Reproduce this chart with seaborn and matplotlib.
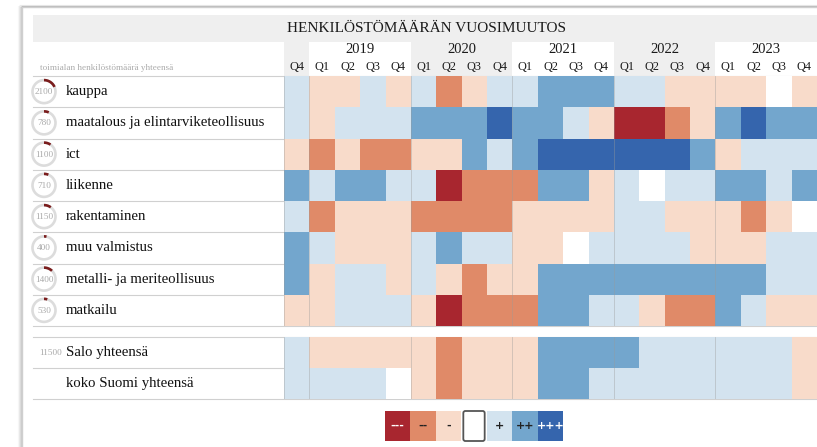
import numpy as np
import pandas as pd
import seaborn as sns
import matplotlib
matplotlib.use("Agg")
import matplotlib.pyplot as plt
from matplotlib.colors import ListedColormap
from matplotlib.patches import Rectangle, Circle, FancyBboxPatch

# ---------------- data ----------------
years = ["2019", "2020", "2021", "2022", "2023"]
quarters = ["Q4"] + ["Q1", "Q2", "Q3", "Q4"] * 5
industries = ["kauppa", "maatalous ja elintarviketeollisuus", "ict", "liikenne",
              "rakentaminen", "muu valmistus", "metalli- ja meriteollisuus", "matkailu"]
staff = [2100, 780, 1100, 710, 1150, 400, 1400, 530]
total_staff = 11500
totals_labels = ["Salo yhteensä", "koko Suomi yhteensä"]

kauppa       = [1, -1, -1, 1, -1, 1, -2, -1, 1, 1, 2, 2, 2, 1, 1, -1, -1, -1, -1, 0, -1]
maatalous    = [1, -1, 1, 1, 1, 2, 2, 2, 3, 2, 2, 1, -1, -3, -3, -2, -1, 2, 3, 2, 2]
ict          = [-1, -2, -1, -2, -2, -1, -1, 2, 1, 2, 3, 3, 3, 3, 3, 3, 2, -1, 1, 1, 1]
liikenne     = [2, 1, 2, 2, 1, 1, -3, -2, -2, -2, 2, 2, -1, 1, 0, 1, 1, 2, 2, 1, 2]
rakentaminen = [1, -2, -1, -1, -1, -2, -2, -2, -2, -1, -1, -1, -1, 1, 1, -1, -1, -1, -2, -1, 0]
muu          = [2, 1, -1, -1, -1, 1, 2, 1, 1, -1, -1, 0, 1, 1, 1, 1, -1, -1, -1, 1, 1]
metalli      = [2, -1, 1, 1, -1, 1, -1, -2, -1, -1, 2, 2, 2, 2, 2, 2, 2, 2, 2, 1, 1]
matkailu     = [-1, -1, 1, 1, 1, -1, -3, -2, -2, -2, 2, 2, 1, 1, -1, -2, -2, 2, 1, -1, -1]
salo         = [1, -1, -1, -1, -1, -1, -2, -1, -1, -1, 2, 2, 2, 2, 1, 1, 1, 1, 1, 1, -1]
suomi        = [1, 1, 1, 1, 0, -1, -2, -1, -1, -1, 2, 2, 1, 1, 1, 1, 1, 1, 1, 1, -1]

legend_levels = [-3, -2, -1, 0, 1, 2, 3]
legend_labels = ["---", "--", "-", "", "+", "++", "+++"]

palette = ["#a8262f", "#e08a68", "#f8dbca", "#ffffff", "#d3e3ef", "#73a6cd", "#3565ad"]
cmap = ListedColormap(palette)

df_ind = pd.DataFrame([kauppa, maatalous, ict, liikenne, rakentaminen, muu, metalli, matkailu],
                      index=industries)
df_tot = pd.DataFrame([salo, suomi], index=totals_labels)

# ---------------- figure ----------------
W, H = 817, 447
fig = plt.figure(figsize=(W / 100, H / 100), dpi=100)
fig.patch.set_facecolor("white")
bg = fig.add_axes([0, 0, 1, 1], zorder=0)
bg.set_xlim(0, W)
bg.set_ylim(H, 0)
bg.axis("off")

SERIF = "Liberation Serif"

# card shadow / border
for i, a in enumerate([0.12, 0.08, 0.05, 0.03]):
    bg.add_patch(Rectangle((22 - i, 7 - i * 0.5), W, H, fill=False, ec="#000000",
                           alpha=a, lw=1.6))
bg.add_patch(Rectangle((22, 7), W, H, fc="white", ec="#cfcfcf", lw=1.0))

# header band
X0, X1 = 284, 817
ncol = len(quarters)
cw = (X1 - X0) / ncol
bg.add_patch(Rectangle((33, 15), W - 33, 27, fc="#efefef", ec="none"))
bg.add_patch(Rectangle((X0, 42), X1 - X0, 34, fc="#efefef", ec="none"))
for k, yr in enumerate(years):
    xs = X0 + cw * (1 + 4 * k)
    if k % 2 == 0:
        bg.add_patch(Rectangle((xs, 42), 4 * cw, 34, fc="white", ec="none"))
    bg.text(xs + 2 * cw, 49.5, yr, ha="center", va="center", fontsize=10.5,
            family=SERIF, color="#1a1a1a")
for j, q in enumerate(quarters):
    bg.text(X0 + cw * (j + 0.5), 67.5, q, ha="center", va="center", fontsize=8.8,
            family=SERIF, color="#1a1a1a")

bg.text(427, 29, "HENKILÖSTÖMÄÄRÄN VUOSIMUUTOS", ha="center", va="center",
        fontsize=11, family=SERIF, color="#1a1a1a")
bg.text(40, 68, "toimialan henkilöstömäärä yhteensä", ha="left", va="center",
        fontsize=6.6, family=SERIF, color="#aaaaaa")

# row geometry
Y_TOP, Y_BOT = 76, 326
rh = (Y_BOT - Y_TOP) / len(industries)
T_TOP, T_BOT = 337, 399
th = (T_BOT - T_TOP) / 2

for i in range(len(industries) + 1):
    y = Y_TOP + i * rh
    bg.plot([33, W], [y, y], color="#d0d0d0", lw=0.8)
for i in range(3):
    y = T_TOP + i * th
    bg.plot([33, W], [y, y], color="#d0d0d0", lw=0.8)

# gauges + labels
for i, (name, n) in enumerate(zip(industries, staff)):
    cy = Y_TOP + (i + 0.5) * rh
    cx, r = 44, 11.5
    bg.add_patch(Circle((cx, cy), r, fc="white", ec="#dcdcdc", lw=1.9))
    t = np.linspace(0, 2 * np.pi * n / total_staff, 40)
    bg.plot(cx + r * np.sin(t), cy - r * np.cos(t), color="#7a1c1c", lw=1.9,
            solid_capstyle="butt")
    bg.text(cx, cy + 0.5, str(n), ha="center", va="center", fontsize=6.6,
            family=SERIF, color="#a8a8a8")
    bg.text(66, cy, name, ha="left", va="center", fontsize=10.6,
            family=SERIF, color="#111111")

for i, name in enumerate(totals_labels):
    cy = T_TOP + (i + 0.5) * th
    if i == 0:
        bg.text(62, cy + 0.5, str(total_staff), ha="right", va="center", fontsize=6.6,
                family=SERIF, color="#a8a8a8")
    bg.text(66, cy, name, ha="left", va="center", fontsize=10.6,
            family=SERIF, color="#111111")


def fax(x0, y0, x1, y1, z=2):
    return fig.add_axes([x0 / W, 1 - y1 / H, (x1 - x0) / W, (y1 - y0) / H], zorder=z)


def draw_heat(ax, df):
    sns.heatmap(df, ax=ax, cmap=cmap, vmin=-3.5, vmax=3.5, cbar=False,
                xticklabels=False, yticklabels=False, linewidths=0)
    ax.set_xticks([])
    ax.set_yticks([])
    ax.set_xlabel("")
    ax.set_ylabel("")
    for xb in [0, 1, 5, 9, 13, 17]:
        ax.axvline(xb, color="#9a9a9a", lw=0.6, alpha=0.45)
    for s in ax.spines.values():
        s.set_visible(False)


ax1 = fax(X0, Y_TOP, X1, Y_BOT)
draw_heat(ax1, df_ind)
ax2 = fax(X0, T_TOP, X1, T_BOT)
draw_heat(ax2, df_tot)

# legend
LX0, LX1, LY0, LY1 = 385, 563, 411, 441
axl = fax(LX0, LY0, LX1, LY1, z=3)
sns.heatmap(pd.DataFrame([legend_levels]), ax=axl, cmap=cmap, vmin=-3.5, vmax=3.5,
            cbar=False, xticklabels=False, yticklabels=False, linewidths=0)
axl.set_xticks([])
axl.set_yticks([])
axl.add_patch(FancyBboxPatch((3.08, 0.0), 0.84, 1.0, boxstyle="round,pad=0,rounding_size=0.08",
                             fill=False, ec="#555555", lw=1.3, clip_on=False,
                             mutation_aspect=0.85))
txt_col = ["white", "#222", "#222", "#222", "#222", "#222", "white"]
for j, (lab, c) in enumerate(zip(legend_labels, txt_col)):
    axl.text(j + 0.5, 0.5, lab, ha="center", va="center", fontsize=8,
             fontweight="bold", color=c, family="DejaVu Sans")

fig.savefig("out.png", dpi=100)
